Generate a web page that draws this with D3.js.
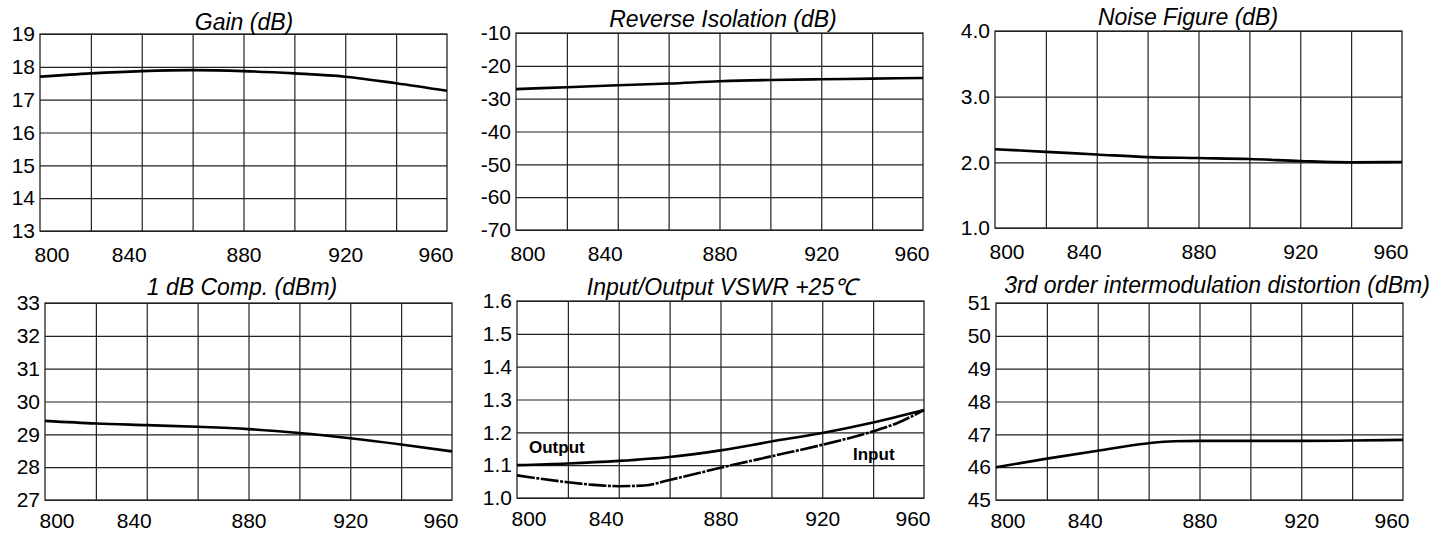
<!DOCTYPE html>
<html>
<head>
<meta charset="utf-8">
<script src="https://cdn.jsdelivr.net/npm/d3@7"></script>
<style>
  body { margin: 0; background: #fff; }
  svg { display: block; font-family: "Liberation Sans", Arial, sans-serif; }
</style>
</head>
<body>
<svg id="chart" width="1449" height="533"></svg>
<script>
// frequency (MHz)
const freq = [800, 820, 840, 860, 880, 900, 920, 940, 960];
const xLabels = [800, 840, 880, 920, 960];
const xGrid = [820, 840, 860, 880, 900, 920, 940];

// series
const gain = [17.7, 17.8, 17.87, 17.9, 17.87, 17.8, 17.7, 17.5, 17.27];
const isolation = [-27.1, -26.5, -25.9, -25.4, -24.7, -24.3, -24.1, -23.9, -23.7];
const noiseFigure = [2.2, 2.16, 2.12, 2.08, 2.065, 2.05, 2.02, 2.0, 2.005];
const p1dB = [29.41, 29.33, 29.28, 29.23, 29.16, 29.04, 28.88, 28.69, 28.48];
const vswrOutput = [1.10, 1.105, 1.113, 1.125, 1.145, 1.172, 1.198, 1.23, 1.268];
const vswrInFreq = [800, 820, 830, 840, 850, 860, 880, 900, 920, 940, 950, 960];
const vswrInput = [1.069, 1.048, 1.04, 1.036, 1.038, 1.055, 1.092, 1.127, 1.162, 1.203, 1.23, 1.268];
const imdFreq = [800, 820, 840, 860, 870, 880, 900, 920, 940, 960];
const imd = [46.0, 46.26, 46.5, 46.73, 46.79, 46.8, 46.8, 46.8, 46.81, 46.83];

// y tick labels
const gainTicks = [13, 14, 15, 16, 17, 18, 19];
const isoTicks = [-70, -60, -50, -40, -30, -20, -10];
const nfTicks = [1, 2, 3, 4];
const p1dBTicks = [27, 28, 29, 30, 31, 32, 33];
const vswrTicks = [1.0, 1.1, 1.2, 1.3, 1.4, 1.5, 1.6];
const imdTicks = [45, 46, 47, 48, 49, 50, 51];

const panels = [
  {title: 'Gain (dB)', left: 40, top: 34, titleX: 244, titleY: 30, ticks: gainTicks, fmt: 'd',
    series: [{x: freq, y: gain}]},
  {title: 'Reverse Isolation (dB)', left: 516, top: 33, titleX: 723, titleY: 27, ticks: isoTicks, fmt: 'd',
    series: [{x: freq, y: isolation}]},
  {title: 'Noise Figure (dB)', left: 995, top: 31, titleX: 1188, titleY: 25, ticks: nfTicks, fmt: '.1f',
    series: [{x: freq, y: noiseFigure}]},
  {title: '1 dB Comp. (dBm)', left: 45, top: 303, titleX: 242, titleY: 295, ticks: p1dBTicks, fmt: 'd',
    series: [{x: freq, y: p1dB}]},
  {title: 'Input/Output VSWR +25\u2103', left: 517, top: 301, titleX: 722, titleY: 295, ticks: vswrTicks, fmt: '.1f',
    series: [{x: freq, y: vswrOutput}, {x: vswrInFreq, y: vswrInput, dash: '18,1.5,3,1.5'}],
    notes: [{text: 'Output', x: 529, y: 453}, {text: 'Input', x: 853, y: 460}]},
  {title: '3rd order intermodulation distortion (dBm)', left: 996, top: 303, titleX: 1217, titleY: 293, ticks: imdTicks, fmt: 'd',
    series: [{x: imdFreq, y: imd}]}
];

const w = 407, h = 197;
const svg = d3.select('#chart');

panels.forEach(p => {
  let x = d3.scaleLinear().domain([800, 960]).range([p.left, p.left + w]),
      y = d3.scaleLinear().domain(d3.extent(p.ticks)).range([p.top + h, p.top]),
      fmt = d3.format(p.fmt),
      labelY = p.top > 200 ? 28 : 31;

  let g = svg.append('g');

  // vertical grid
  g.append('g')
    .attr('transform', 'translate(0,' + (p.top + h) + ')')
    .call(d3.axisBottom(x).tickValues(xGrid).tickSize(-h).tickFormat(''))
    .call(s => s.select('.domain').remove())
    .selectAll('line').attr('stroke', '#222').attr('stroke-width', 1.2);

  // horizontal grid
  g.append('g')
    .attr('transform', 'translate(' + p.left + ',0)')
    .call(d3.axisLeft(y).tickValues(p.ticks).tickSize(-w).tickFormat(''))
    .call(s => s.select('.domain').remove())
    .selectAll('line').attr('stroke', '#222').attr('stroke-width', 1.2);

  // frame
  g.append('rect')
    .attr('x', p.left).attr('y', p.top).attr('width', w).attr('height', h)
    .attr('fill', 'none').attr('stroke', '#222').attr('stroke-width', 1.3);

  // y labels (plain hyphen minus like the datasheet)
  g.append('g')
    .attr('transform', 'translate(' + (p.left - 5) + ',0)')
    .call(d3.axisLeft(y).tickValues(p.ticks).tickSize(0).tickPadding(0)
      .tickFormat(d => fmt(d).replace('\u2212', '-')))
    .call(s => s.select('.domain').remove())
    .selectAll('text')
      .attr('font-size', 21).attr('fill', '#000')
      .attr('font-family', '"Liberation Sans", Arial, sans-serif');

  // x labels
  g.append('g')
    .attr('transform', 'translate(0,' + (p.top + h) + ')')
    .call(d3.axisBottom(x).tickValues(xLabels).tickSize(0).tickPadding(0).tickFormat(d3.format('d')))
    .call(s => s.select('.domain').remove())
    .selectAll('text')
      .attr('font-size', 21).attr('fill', '#000')
      .attr('font-family', '"Liberation Sans", Arial, sans-serif')
      .attr('y', labelY).attr('dy', 0)
      .attr('text-anchor', d => d === 800 ? 'start' : d === 960 ? 'end' : 'middle')
      .attr('dx', d => d === 800 ? -6 : d === 960 ? 6 : d === 840 ? -13 : 0);

  // title
  g.append('text')
    .attr('x', p.titleX).attr('y', p.titleY)
    .attr('text-anchor', 'middle')
    .attr('font-size', 23).attr('font-style', 'italic')
    .text(p.title);

  // curves
  p.series.forEach(s => {
    let line = d3.line()
      .x((d, i) => x(s.x[i]))
      .y(d => y(d))
      .curve(d3.curveMonotoneX);
    g.append('path')
      .datum(s.y)
      .attr('d', line)
      .attr('fill', 'none')
      .attr('stroke', '#000')
      .attr('stroke-width', 2.6)
      .attr('stroke-dasharray', s.dash || null);
  });

  (p.notes || []).forEach(n => {
    g.append('text')
      .attr('x', n.x).attr('y', n.y)
      .attr('font-size', 17).attr('font-weight', 'bold')
      .text(n.text);
  });
});
</script>
</body>
</html>
